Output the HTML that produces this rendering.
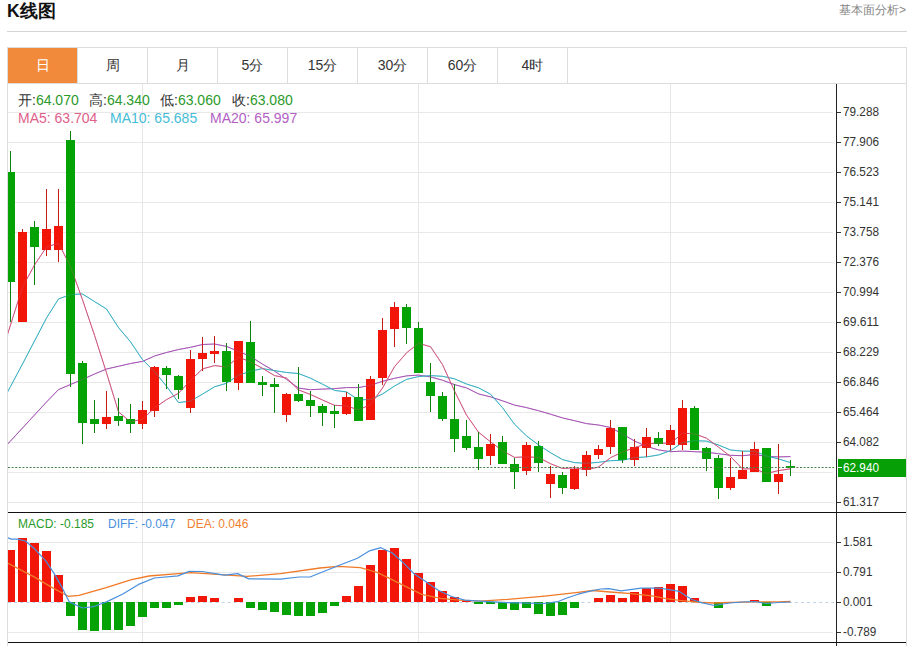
<!DOCTYPE html>
<html><head><meta charset="utf-8"><style>
html,body{margin:0;padding:0;background:#fff;width:912px;height:646px;overflow:hidden;position:relative;font-family:"Liberation Sans",sans-serif}
.title{position:absolute;left:7px;top:0px;font-size:17.5px;font-weight:bold;color:#111;line-height:22px}
.more{position:absolute;right:6px;top:2px;font-size:12px;color:#888;line-height:16px}
.hline{position:absolute;left:7px;top:31px;width:900px;height:1px;background:#d4d4d4}
.box{position:absolute;left:7px;top:47px;width:898px;height:599px;border:1px solid #dcdcdc;border-bottom:none}
.tab{position:absolute;top:48px;width:69px;height:35px;border-right:1px solid #dcdcdc;text-align:center;line-height:35px;font-size:14px;color:#333}
.tab.on{background:#f28a3c;color:#fff}
.tabline{position:absolute;left:8px;top:83px;width:898px;height:1px;background:#dcdcdc}
.info{position:absolute;font-size:14px;line-height:16px;white-space:pre}
svg text.ax,svg text.axw{font-family:"Liberation Sans",sans-serif;font-size:13px;fill:#333} svg text.axw{fill:#fff}
</style></head><body>
<div class="title">K线图</div>
<div class="more">基本面分析&gt;</div>
<div class="hline"></div>
<div class="box"></div>
<div class="tab on" style="left:8px">日</div><div class="tab" style="left:78px">周</div><div class="tab" style="left:148px">月</div><div class="tab" style="left:218px">5分</div><div class="tab" style="left:288px">15分</div><div class="tab" style="left:358px">30分</div><div class="tab" style="left:428px">60分</div><div class="tab" style="left:498px">4时</div>
<div class="tabline"></div>
<svg width="912" height="646" style="position:absolute;left:0;top:0"><defs><clipPath id="clipMain"><rect x="8" y="84" width="828" height="428"/></clipPath><clipPath id="clipMacd"><rect x="8" y="513" width="828" height="129"/></clipPath></defs><line x1="8" y1="112.5" x2="833" y2="112.5" stroke="#e8e8e8" stroke-width="1"/><line x1="8" y1="142.5" x2="833" y2="142.5" stroke="#e8e8e8" stroke-width="1"/><line x1="8" y1="172.5" x2="833" y2="172.5" stroke="#e8e8e8" stroke-width="1"/><line x1="8" y1="202.5" x2="833" y2="202.5" stroke="#e8e8e8" stroke-width="1"/><line x1="8" y1="232.5" x2="833" y2="232.5" stroke="#e8e8e8" stroke-width="1"/><line x1="8" y1="262.5" x2="833" y2="262.5" stroke="#e8e8e8" stroke-width="1"/><line x1="8" y1="292.5" x2="833" y2="292.5" stroke="#e8e8e8" stroke-width="1"/><line x1="8" y1="322.5" x2="833" y2="322.5" stroke="#e8e8e8" stroke-width="1"/><line x1="8" y1="352.5" x2="833" y2="352.5" stroke="#e8e8e8" stroke-width="1"/><line x1="8" y1="382.5" x2="833" y2="382.5" stroke="#e8e8e8" stroke-width="1"/><line x1="8" y1="412.5" x2="833" y2="412.5" stroke="#e8e8e8" stroke-width="1"/><line x1="8" y1="442.5" x2="833" y2="442.5" stroke="#e8e8e8" stroke-width="1"/><line x1="8" y1="472.5" x2="833" y2="472.5" stroke="#e8e8e8" stroke-width="1"/><line x1="8" y1="502.5" x2="833" y2="502.5" stroke="#e8e8e8" stroke-width="1"/><line x1="8" y1="542.5" x2="833" y2="542.5" stroke="#e8e8e8" stroke-width="1"/><line x1="8" y1="572.5" x2="833" y2="572.5" stroke="#e8e8e8" stroke-width="1"/><line x1="8" y1="632.5" x2="833" y2="632.5" stroke="#e8e8e8" stroke-width="1"/><line x1="142.5" y1="84" x2="142.5" y2="642" stroke="#e6e6e8" stroke-width="1"/><line x1="418.5" y1="84" x2="418.5" y2="642" stroke="#e6e6e8" stroke-width="1"/><line x1="670.5" y1="84" x2="670.5" y2="642" stroke="#e6e6e8" stroke-width="1"/><g clip-path="url(#clipMain)"><polyline points="-1.5,454.0 10.5,441.0 22.5,428.0 34.5,415.0 46.5,402.0 58.5,389.6 70.5,384.5 82.5,379.5 94.5,374.0 106.5,369.0 118.5,366.3 130.5,363.5 142.5,361.4 154.5,356.0 166.5,352.5 178.5,349.5 190.5,347.3 202.5,344.5 214.5,344.0 226.5,346.4 238.5,351.4 250.5,356.5 262.5,364.1 274.5,371.1 286.5,379.3 298.5,388.1 310.5,389.7 322.5,389.1 334.5,388.6 346.5,387.6 358.5,387.6 370.5,385.3 382.5,381.3 394.5,378.3 406.5,375.9 418.5,375.1 430.5,376.9 442.5,380.2 454.5,384.6 466.5,387.9 478.5,393.9 490.5,396.9 502.5,400.8 514.5,405.1 526.5,407.6 538.5,410.7 550.5,414.2 562.5,417.9 574.5,420.7 586.5,423.6 598.5,425.0 610.5,427.5 622.5,434.0 634.5,441.0 646.5,446.4 658.5,449.9 670.5,451.7 682.5,451.1 694.5,451.7 706.5,452.2 718.5,453.7 730.5,455.3 742.5,455.7 754.5,454.5 766.5,456.4 778.5,456.9 790.5,456.6" fill="none" stroke="#a552b4" stroke-width="1.0" stroke-linejoin="round"/><polyline points="-1.5,409.0 10.5,386.5 22.5,364.0 34.5,341.0 46.5,318.0 58.5,299.0 70.5,294.5 82.5,294.0 94.5,301.5 106.5,309.0 118.5,327.6 130.5,341.8 142.5,359.6 154.5,371.6 166.5,386.2 178.5,402.6 190.5,401.1 202.5,394.1 214.5,386.8 226.5,383.3 238.5,375.2 250.5,371.2 262.5,368.6 274.5,370.6 286.5,372.5 298.5,373.5 310.5,378.2 322.5,384.2 334.5,390.4 346.5,391.9 358.5,399.9 370.5,399.5 382.5,394.0 394.5,386.0 406.5,379.4 418.5,376.6 430.5,375.6 442.5,376.3 454.5,378.8 466.5,384.0 478.5,387.8 490.5,394.2 502.5,407.7 514.5,424.2 526.5,435.9 538.5,444.9 550.5,452.7 562.5,459.6 574.5,462.6 586.5,463.3 598.5,462.3 610.5,460.7 622.5,460.2 634.5,457.7 646.5,456.9 658.5,455.0 670.5,450.6 682.5,442.6 694.5,440.7 706.5,441.1 718.5,445.0 730.5,450.0 742.5,451.1 754.5,451.3 766.5,455.9 778.5,458.9 790.5,462.6" fill="none" stroke="#36b0c2" stroke-width="1.0" stroke-linejoin="round"/><polyline points="-1.5,363.0 10.5,325.0 22.5,287.0 34.5,265.0 46.5,247.0 58.5,243.2 70.5,266.5 82.5,299.8 94.5,335.2 106.5,372.8 118.5,411.9 130.5,421.8 142.5,419.3 154.5,407.9 166.5,399.6 178.5,393.3 190.5,380.4 202.5,368.9 214.5,365.6 226.5,367.0 238.5,357.1 250.5,361.9 262.5,368.3 274.5,375.6 286.5,378.0 298.5,389.9 310.5,394.5 322.5,400.0 334.5,405.3 346.5,405.9 358.5,409.9 370.5,404.6 382.5,388.0 394.5,366.7 406.5,352.9 418.5,343.3 430.5,346.7 442.5,364.6 454.5,391.0 466.5,415.1 478.5,432.2 490.5,441.8 502.5,450.7 514.5,457.4 526.5,456.8 538.5,457.5 550.5,463.7 562.5,468.5 574.5,467.9 586.5,469.8 598.5,467.0 610.5,457.7 622.5,452.0 634.5,447.6 646.5,444.0 658.5,442.9 670.5,443.5 682.5,433.2 694.5,433.8 706.5,438.2 718.5,447.1 730.5,456.5 742.5,468.9 754.5,468.8 766.5,473.5 778.5,470.6 790.5,468.8" fill="none" stroke="#cf5580" stroke-width="1.0" stroke-linejoin="round"/></g><g clip-path="url(#clipMain)" shape-rendering="crispEdges"><rect x="10.0" y="151" width="1" height="171" fill="#0a820a"/><rect x="6.0" y="172" width="9" height="110" fill="#04a204"/><rect x="22.0" y="229" width="1" height="93" fill="#c41c12"/><rect x="18.0" y="232" width="9" height="90" fill="#f21608"/><rect x="34.0" y="221" width="1" height="64" fill="#0a820a"/><rect x="30.0" y="227" width="9" height="20" fill="#04a204"/><rect x="46.0" y="189" width="1" height="67" fill="#c41c12"/><rect x="42.0" y="229" width="9" height="21" fill="#f21608"/><rect x="58.0" y="189" width="1" height="73" fill="#c41c12"/><rect x="54.0" y="226" width="9" height="24" fill="#f21608"/><rect x="70.0" y="131" width="1" height="256" fill="#0a820a"/><rect x="66.0" y="140" width="9" height="234" fill="#04a204"/><rect x="82.0" y="361" width="1" height="83" fill="#0a820a"/><rect x="78.0" y="363" width="9" height="60" fill="#04a204"/><rect x="94.0" y="400" width="1" height="33" fill="#0a820a"/><rect x="90.0" y="419" width="9" height="5" fill="#04a204"/><rect x="106.0" y="391" width="1" height="38" fill="#c41c12"/><rect x="102.0" y="417" width="9" height="7" fill="#f21608"/><rect x="118.0" y="398" width="1" height="28" fill="#0a820a"/><rect x="114.0" y="416" width="9" height="5" fill="#04a204"/><rect x="130.0" y="404" width="1" height="29" fill="#0a820a"/><rect x="126.0" y="419" width="9" height="5" fill="#04a204"/><rect x="142.0" y="401" width="1" height="28" fill="#c41c12"/><rect x="138.0" y="410" width="9" height="14" fill="#f21608"/><rect x="154.0" y="366" width="1" height="51" fill="#c41c12"/><rect x="150.0" y="367" width="9" height="44" fill="#f21608"/><rect x="166.0" y="366" width="1" height="23" fill="#0a820a"/><rect x="162.0" y="368" width="9" height="7" fill="#04a204"/><rect x="178.0" y="375" width="1" height="24" fill="#0a820a"/><rect x="174.0" y="376" width="9" height="14" fill="#04a204"/><rect x="190.0" y="350" width="1" height="63" fill="#c41c12"/><rect x="186.0" y="359" width="9" height="49" fill="#f21608"/><rect x="202.0" y="337" width="1" height="34" fill="#c41c12"/><rect x="198.0" y="353" width="9" height="6" fill="#f21608"/><rect x="214.0" y="336" width="1" height="27" fill="#c41c12"/><rect x="210.0" y="351" width="9" height="3" fill="#f21608"/><rect x="226.0" y="343" width="1" height="48" fill="#0a820a"/><rect x="222.0" y="351" width="9" height="31" fill="#04a204"/><rect x="238.0" y="341" width="1" height="49" fill="#c41c12"/><rect x="234.0" y="341" width="9" height="42" fill="#f21608"/><rect x="250.0" y="321" width="1" height="62" fill="#0a820a"/><rect x="246.0" y="342" width="9" height="41" fill="#04a204"/><rect x="262.0" y="376" width="1" height="20" fill="#0a820a"/><rect x="258.0" y="382" width="9" height="3" fill="#04a204"/><rect x="274.0" y="378" width="1" height="35" fill="#0a820a"/><rect x="270.0" y="384" width="9" height="3" fill="#04a204"/><rect x="286.0" y="393" width="1" height="29" fill="#c41c12"/><rect x="282.0" y="394" width="9" height="21" fill="#f21608"/><rect x="298.0" y="367" width="1" height="35" fill="#0a820a"/><rect x="294.0" y="394" width="9" height="7" fill="#04a204"/><rect x="310.0" y="391" width="1" height="26" fill="#0a820a"/><rect x="306.0" y="400" width="9" height="6" fill="#04a204"/><rect x="322.0" y="404" width="1" height="22" fill="#0a820a"/><rect x="318.0" y="406" width="9" height="7" fill="#04a204"/><rect x="334.0" y="405" width="1" height="23" fill="#0a820a"/><rect x="330.0" y="411" width="9" height="3" fill="#04a204"/><rect x="346.0" y="392" width="1" height="23" fill="#c41c12"/><rect x="342.0" y="397" width="9" height="17" fill="#f21608"/><rect x="358.0" y="384" width="1" height="37" fill="#0a820a"/><rect x="354.0" y="397" width="9" height="24" fill="#04a204"/><rect x="370.0" y="376" width="1" height="44" fill="#c41c12"/><rect x="366.0" y="379" width="9" height="41" fill="#f21608"/><rect x="382.0" y="318" width="1" height="67" fill="#c41c12"/><rect x="378.0" y="330" width="9" height="48" fill="#f21608"/><rect x="394.0" y="302" width="1" height="45" fill="#c41c12"/><rect x="390.0" y="307" width="9" height="22" fill="#f21608"/><rect x="406.0" y="304" width="1" height="40" fill="#0a820a"/><rect x="402.0" y="307" width="9" height="21" fill="#04a204"/><rect x="418.0" y="322" width="1" height="51" fill="#0a820a"/><rect x="414.0" y="328" width="9" height="45" fill="#04a204"/><rect x="430.0" y="363" width="1" height="49" fill="#0a820a"/><rect x="426.0" y="382" width="9" height="14" fill="#04a204"/><rect x="442.0" y="392" width="1" height="29" fill="#0a820a"/><rect x="438.0" y="396" width="9" height="23" fill="#04a204"/><rect x="454.0" y="384" width="1" height="68" fill="#0a820a"/><rect x="450.0" y="419" width="9" height="20" fill="#04a204"/><rect x="466.0" y="420" width="1" height="30" fill="#0a820a"/><rect x="462.0" y="436" width="9" height="12" fill="#04a204"/><rect x="478.0" y="432" width="1" height="38" fill="#0a820a"/><rect x="474.0" y="447" width="9" height="12" fill="#04a204"/><rect x="490.0" y="434" width="1" height="31" fill="#c41c12"/><rect x="486.0" y="444" width="9" height="12" fill="#f21608"/><rect x="502.0" y="436" width="1" height="28" fill="#0a820a"/><rect x="498.0" y="442" width="9" height="22" fill="#04a204"/><rect x="514.0" y="458" width="1" height="31" fill="#0a820a"/><rect x="510.0" y="464" width="9" height="8" fill="#04a204"/><rect x="526.0" y="442" width="1" height="33" fill="#c41c12"/><rect x="522.0" y="445" width="9" height="26" fill="#f21608"/><rect x="538.0" y="441" width="1" height="31" fill="#0a820a"/><rect x="534.0" y="446" width="9" height="17" fill="#04a204"/><rect x="550.0" y="466" width="1" height="32" fill="#c41c12"/><rect x="546.0" y="474" width="9" height="10" fill="#f21608"/><rect x="562.0" y="472" width="1" height="22" fill="#0a820a"/><rect x="558.0" y="475" width="9" height="13" fill="#04a204"/><rect x="574.0" y="466" width="1" height="24" fill="#c41c12"/><rect x="570.0" y="469" width="9" height="20" fill="#f21608"/><rect x="586.0" y="451" width="1" height="25" fill="#c41c12"/><rect x="582.0" y="455" width="9" height="15" fill="#f21608"/><rect x="598.0" y="445" width="1" height="14" fill="#c41c12"/><rect x="594.0" y="449" width="9" height="6" fill="#f21608"/><rect x="610.0" y="420" width="1" height="34" fill="#c41c12"/><rect x="606.0" y="428" width="9" height="19" fill="#f21608"/><rect x="622.0" y="427" width="1" height="36" fill="#0a820a"/><rect x="618.0" y="427" width="9" height="33" fill="#04a204"/><rect x="634.0" y="439" width="1" height="27" fill="#c41c12"/><rect x="630.0" y="447" width="9" height="13" fill="#f21608"/><rect x="646.0" y="428" width="1" height="29" fill="#c41c12"/><rect x="642.0" y="437" width="9" height="11" fill="#f21608"/><rect x="658.0" y="432" width="1" height="14" fill="#0a820a"/><rect x="654.0" y="438" width="9" height="6" fill="#04a204"/><rect x="670.0" y="425" width="1" height="26" fill="#c41c12"/><rect x="666.0" y="430" width="9" height="15" fill="#f21608"/><rect x="682.0" y="400" width="1" height="50" fill="#c41c12"/><rect x="678.0" y="408" width="9" height="37" fill="#f21608"/><rect x="694.0" y="406" width="1" height="44" fill="#0a820a"/><rect x="690.0" y="408" width="9" height="42" fill="#04a204"/><rect x="706.0" y="447" width="1" height="24" fill="#0a820a"/><rect x="702.0" y="448" width="9" height="11" fill="#04a204"/><rect x="718.0" y="455" width="1" height="44" fill="#0a820a"/><rect x="714.0" y="458" width="9" height="30" fill="#04a204"/><rect x="730.0" y="458" width="1" height="32" fill="#c41c12"/><rect x="726.0" y="477" width="9" height="11" fill="#f21608"/><rect x="742.0" y="451" width="1" height="28" fill="#c41c12"/><rect x="738.0" y="470" width="9" height="9" fill="#f21608"/><rect x="754.0" y="442" width="1" height="30" fill="#c41c12"/><rect x="750.0" y="449" width="9" height="23" fill="#f21608"/><rect x="766.0" y="448" width="1" height="34" fill="#0a820a"/><rect x="762.0" y="448" width="9" height="34" fill="#04a204"/><rect x="778.0" y="444" width="1" height="50" fill="#c41c12"/><rect x="774.0" y="474" width="9" height="8" fill="#f21608"/><rect x="790.0" y="460" width="1" height="16" fill="#0a820a"/><rect x="786.0" y="466" width="9" height="2" fill="#04a204"/></g><g clip-path="url(#clipMain)" opacity="0.35"><polyline points="-1.5,454.0 10.5,441.0 22.5,428.0 34.5,415.0 46.5,402.0 58.5,389.6 70.5,384.5 82.5,379.5 94.5,374.0 106.5,369.0 118.5,366.3 130.5,363.5 142.5,361.4 154.5,356.0 166.5,352.5 178.5,349.5 190.5,347.3 202.5,344.5 214.5,344.0 226.5,346.4 238.5,351.4 250.5,356.5 262.5,364.1 274.5,371.1 286.5,379.3 298.5,388.1 310.5,389.7 322.5,389.1 334.5,388.6 346.5,387.6 358.5,387.6 370.5,385.3 382.5,381.3 394.5,378.3 406.5,375.9 418.5,375.1 430.5,376.9 442.5,380.2 454.5,384.6 466.5,387.9 478.5,393.9 490.5,396.9 502.5,400.8 514.5,405.1 526.5,407.6 538.5,410.7 550.5,414.2 562.5,417.9 574.5,420.7 586.5,423.6 598.5,425.0 610.5,427.5 622.5,434.0 634.5,441.0 646.5,446.4 658.5,449.9 670.5,451.7 682.5,451.1 694.5,451.7 706.5,452.2 718.5,453.7 730.5,455.3 742.5,455.7 754.5,454.5 766.5,456.4 778.5,456.9 790.5,456.6" fill="none" stroke="#a552b4" stroke-width="1.0" stroke-linejoin="round"/><polyline points="-1.5,409.0 10.5,386.5 22.5,364.0 34.5,341.0 46.5,318.0 58.5,299.0 70.5,294.5 82.5,294.0 94.5,301.5 106.5,309.0 118.5,327.6 130.5,341.8 142.5,359.6 154.5,371.6 166.5,386.2 178.5,402.6 190.5,401.1 202.5,394.1 214.5,386.8 226.5,383.3 238.5,375.2 250.5,371.2 262.5,368.6 274.5,370.6 286.5,372.5 298.5,373.5 310.5,378.2 322.5,384.2 334.5,390.4 346.5,391.9 358.5,399.9 370.5,399.5 382.5,394.0 394.5,386.0 406.5,379.4 418.5,376.6 430.5,375.6 442.5,376.3 454.5,378.8 466.5,384.0 478.5,387.8 490.5,394.2 502.5,407.7 514.5,424.2 526.5,435.9 538.5,444.9 550.5,452.7 562.5,459.6 574.5,462.6 586.5,463.3 598.5,462.3 610.5,460.7 622.5,460.2 634.5,457.7 646.5,456.9 658.5,455.0 670.5,450.6 682.5,442.6 694.5,440.7 706.5,441.1 718.5,445.0 730.5,450.0 742.5,451.1 754.5,451.3 766.5,455.9 778.5,458.9 790.5,462.6" fill="none" stroke="#36b0c2" stroke-width="1.0" stroke-linejoin="round"/><polyline points="-1.5,363.0 10.5,325.0 22.5,287.0 34.5,265.0 46.5,247.0 58.5,243.2 70.5,266.5 82.5,299.8 94.5,335.2 106.5,372.8 118.5,411.9 130.5,421.8 142.5,419.3 154.5,407.9 166.5,399.6 178.5,393.3 190.5,380.4 202.5,368.9 214.5,365.6 226.5,367.0 238.5,357.1 250.5,361.9 262.5,368.3 274.5,375.6 286.5,378.0 298.5,389.9 310.5,394.5 322.5,400.0 334.5,405.3 346.5,405.9 358.5,409.9 370.5,404.6 382.5,388.0 394.5,366.7 406.5,352.9 418.5,343.3 430.5,346.7 442.5,364.6 454.5,391.0 466.5,415.1 478.5,432.2 490.5,441.8 502.5,450.7 514.5,457.4 526.5,456.8 538.5,457.5 550.5,463.7 562.5,468.5 574.5,467.9 586.5,469.8 598.5,467.0 610.5,457.7 622.5,452.0 634.5,447.6 646.5,444.0 658.5,442.9 670.5,443.5 682.5,433.2 694.5,433.8 706.5,438.2 718.5,447.1 730.5,456.5 742.5,468.9 754.5,468.8 766.5,473.5 778.5,470.6 790.5,468.8" fill="none" stroke="#cf5580" stroke-width="1.0" stroke-linejoin="round"/></g><line x1="8" y1="467.5" x2="834" y2="467.5" stroke="#4a804a" stroke-width="1" stroke-dasharray="2,1.6"/><line x1="8" y1="602.5" x2="834" y2="602.5" stroke="#bcd2e6" stroke-width="1" stroke-dasharray="3,3.1"/><g clip-path="url(#clipMacd)" shape-rendering="crispEdges"><rect x="6.0" y="550" width="9" height="52" fill="#f21608"/><rect x="18.0" y="538" width="9" height="64" fill="#f21608"/><rect x="30.0" y="543" width="9" height="59" fill="#f21608"/><rect x="42.0" y="551" width="9" height="51" fill="#f21608"/><rect x="54.0" y="575" width="9" height="27" fill="#f21608"/><rect x="66.0" y="602" width="9" height="14" fill="#04a204"/><rect x="78.0" y="602" width="9" height="28" fill="#04a204"/><rect x="90.0" y="602" width="9" height="29" fill="#04a204"/><rect x="102.0" y="602" width="9" height="28" fill="#04a204"/><rect x="114.0" y="602" width="9" height="28" fill="#04a204"/><rect x="126.0" y="602" width="9" height="24" fill="#04a204"/><rect x="138.0" y="602" width="9" height="15" fill="#04a204"/><rect x="150.0" y="602" width="9" height="6" fill="#04a204"/><rect x="162.0" y="602" width="9" height="6" fill="#04a204"/><rect x="174.0" y="602" width="9" height="3" fill="#04a204"/><rect x="186.0" y="597" width="9" height="5" fill="#f21608"/><rect x="198.0" y="596" width="9" height="6" fill="#f21608"/><rect x="210.0" y="598" width="9" height="4" fill="#f21608"/><rect x="234.0" y="598" width="9" height="4" fill="#f21608"/><rect x="246.0" y="602" width="9" height="6" fill="#04a204"/><rect x="258.0" y="602" width="9" height="8" fill="#04a204"/><rect x="270.0" y="602" width="9" height="10" fill="#04a204"/><rect x="282.0" y="602" width="9" height="13" fill="#04a204"/><rect x="294.0" y="602" width="9" height="14" fill="#04a204"/><rect x="306.0" y="602" width="9" height="14" fill="#04a204"/><rect x="318.0" y="602" width="9" height="11" fill="#04a204"/><rect x="330.0" y="602" width="9" height="4" fill="#04a204"/><rect x="342.0" y="596" width="9" height="6" fill="#f21608"/><rect x="354.0" y="586" width="9" height="16" fill="#f21608"/><rect x="366.0" y="565" width="9" height="37" fill="#f21608"/><rect x="378.0" y="550" width="9" height="52" fill="#f21608"/><rect x="390.0" y="548" width="9" height="54" fill="#f21608"/><rect x="402.0" y="559" width="9" height="43" fill="#f21608"/><rect x="414.0" y="573" width="9" height="29" fill="#f21608"/><rect x="426.0" y="582" width="9" height="20" fill="#f21608"/><rect x="438.0" y="591" width="9" height="11" fill="#f21608"/><rect x="450.0" y="597" width="9" height="5" fill="#f21608"/><rect x="462.0" y="600" width="9" height="2" fill="#f21608"/><rect x="474.0" y="602" width="9" height="2" fill="#04a204"/><rect x="486.0" y="602" width="9" height="2" fill="#04a204"/><rect x="498.0" y="602" width="9" height="7" fill="#04a204"/><rect x="510.0" y="602" width="9" height="8" fill="#04a204"/><rect x="522.0" y="602" width="9" height="6" fill="#04a204"/><rect x="534.0" y="602" width="9" height="12" fill="#04a204"/><rect x="546.0" y="602" width="9" height="14" fill="#04a204"/><rect x="558.0" y="602" width="9" height="13" fill="#04a204"/><rect x="570.0" y="602" width="9" height="6" fill="#04a204"/><rect x="594.0" y="598" width="9" height="4" fill="#f21608"/><rect x="606.0" y="595" width="9" height="7" fill="#f21608"/><rect x="618.0" y="598" width="9" height="4" fill="#f21608"/><rect x="630.0" y="592" width="9" height="10" fill="#f21608"/><rect x="642.0" y="588" width="9" height="14" fill="#f21608"/><rect x="654.0" y="587" width="9" height="15" fill="#f21608"/><rect x="666.0" y="584" width="9" height="18" fill="#f21608"/><rect x="678.0" y="586" width="9" height="16" fill="#f21608"/><rect x="690.0" y="598" width="9" height="4" fill="#f21608"/><rect x="714.0" y="602" width="9" height="6" fill="#04a204"/><rect x="750.0" y="600" width="9" height="2" fill="#f21608"/><rect x="762.0" y="602" width="9" height="4" fill="#04a204"/></g><g clip-path="url(#clipMacd)"><polyline points="-1.5,561.0 8.0,563.3 35.0,577.4 52.6,587.9 68.4,596.3 79.0,595.3 105.3,587.9 131.6,579.6 149.0,576.0 178.0,573.6 191.0,572.7 220.8,574.6 247.0,576.4 280.5,573.6 320.0,568.0 338.0,566.3 360.3,567.6 377.1,572.3 392.0,579.7 406.9,587.2 421.8,594.3 440.5,598.4 459.1,600.2 480.0,601.2 507.3,599.4 544.6,596.1 578.1,592.4 593.0,590.5 609.8,592.0 628.4,593.3 652.0,595.8 666.2,598.6 679.3,600.4 695.8,602.2 713.3,603.0 730.0,602.4 754.5,601.8 778.5,601.8 790.5,601.5" fill="none" stroke="#f07a28" stroke-width="1.3" stroke-linejoin="round"/><polyline points="-1.5,538.0 8.0,537.9 11.4,539.1 17.5,539.1 25.4,541.0 35.0,549.3 45.6,560.7 54.4,573.9 62.3,587.9 69.3,601.9 82.5,608.0 94.7,606.3 107.0,601.6 122.8,594.0 138.6,584.4 154.4,578.0 178.0,575.9 189.1,571.4 202.2,571.5 224.6,575.1 237.6,573.6 248.8,578.9 280.5,579.2 299.0,577.0 310.0,577.0 338.0,565.8 357.5,558.3 369.6,550.8 380.8,547.7 392.0,552.7 403.2,562.6 414.4,574.1 425.6,581.6 438.6,590.5 451.7,596.5 464.7,600.2 480.0,601.2 507.3,602.6 544.6,603.5 557.6,601.7 566.9,598.0 578.1,594.2 591.2,590.9 600.5,589.0 608.9,588.6 621.0,590.9 641.0,588.2 658.5,588.0 670.6,589.8 679.3,591.4 687.0,596.4 692.5,599.7 701.3,602.6 714.4,605.5 723.2,604.0 730.0,603.0 742.0,602.0 754.5,601.5 766.5,603.5 778.5,602.5 790.5,602.0" fill="none" stroke="#4a8fdc" stroke-width="1.2" stroke-linejoin="round"/></g><rect x="836" y="84" width="1" height="562" fill="#222"/><rect x="8" y="512" width="898" height="1" fill="#111"/><rect x="8" y="642" width="898" height="1" fill="#111"/><rect x="837" y="112.0" width="4" height="1" fill="#333"/><text x="843" y="116.0" class="ax" textLength="35.98" lengthAdjust="spacingAndGlyphs">79.288</text><rect x="837" y="142.0" width="4" height="1" fill="#333"/><text x="843" y="146.0" class="ax" textLength="35.98" lengthAdjust="spacingAndGlyphs">77.906</text><rect x="837" y="172.0" width="4" height="1" fill="#333"/><text x="843" y="176.0" class="ax" textLength="35.98" lengthAdjust="spacingAndGlyphs">76.523</text><rect x="837" y="202.0" width="4" height="1" fill="#333"/><text x="843" y="206.0" class="ax" textLength="35.98" lengthAdjust="spacingAndGlyphs">75.141</text><rect x="837" y="232.0" width="4" height="1" fill="#333"/><text x="843" y="236.0" class="ax" textLength="35.98" lengthAdjust="spacingAndGlyphs">73.758</text><rect x="837" y="262.0" width="4" height="1" fill="#333"/><text x="843" y="266.0" class="ax" textLength="35.98" lengthAdjust="spacingAndGlyphs">72.376</text><rect x="837" y="292.0" width="4" height="1" fill="#333"/><text x="843" y="296.0" class="ax" textLength="35.98" lengthAdjust="spacingAndGlyphs">70.994</text><rect x="837" y="322.0" width="4" height="1" fill="#333"/><text x="843" y="326.0" class="ax" textLength="35.98" lengthAdjust="spacingAndGlyphs">69.611</text><rect x="837" y="352.0" width="4" height="1" fill="#333"/><text x="843" y="356.0" class="ax" textLength="35.98" lengthAdjust="spacingAndGlyphs">68.229</text><rect x="837" y="382.0" width="4" height="1" fill="#333"/><text x="843" y="386.0" class="ax" textLength="35.98" lengthAdjust="spacingAndGlyphs">66.846</text><rect x="837" y="412.0" width="4" height="1" fill="#333"/><text x="843" y="416.0" class="ax" textLength="35.98" lengthAdjust="spacingAndGlyphs">65.464</text><rect x="837" y="442.0" width="4" height="1" fill="#333"/><text x="843" y="446.0" class="ax" textLength="35.98" lengthAdjust="spacingAndGlyphs">64.082</text><rect x="837" y="502.0" width="4" height="1" fill="#333"/><text x="843" y="506.0" class="ax" textLength="35.98" lengthAdjust="spacingAndGlyphs">61.317</text><rect x="837" y="542.0" width="4" height="1" fill="#333"/><text x="843" y="546.0" class="ax" textLength="29.44" lengthAdjust="spacingAndGlyphs">1.581</text><rect x="837" y="572.0" width="4" height="1" fill="#333"/><text x="843" y="576.0" class="ax" textLength="29.44" lengthAdjust="spacingAndGlyphs">0.791</text><rect x="837" y="602.0" width="4" height="1" fill="#333"/><text x="843" y="606.0" class="ax" textLength="29.44" lengthAdjust="spacingAndGlyphs">0.001</text><rect x="837" y="632.0" width="4" height="1" fill="#333"/><text x="843" y="636.0" class="ax" textLength="33.36" lengthAdjust="spacingAndGlyphs">-0.789</text><rect x="838" y="459" width="68" height="18" fill="#06a006"/><rect x="838" y="467" width="4" height="1" fill="#fff"/><text x="843" y="472" class="axw" textLength="35.98" lengthAdjust="spacingAndGlyphs">62.940</text></svg>
<div class="info" style="top:92px;left:18px"><span style="color:#333">开:</span><span style="color:#2a9a2a">64.070</span></div>
<div class="info" style="top:92px;left:89px"><span style="color:#333">高:</span><span style="color:#2a9a2a">64.340</span></div>
<div class="info" style="top:92px;left:160px"><span style="color:#333">低:</span><span style="color:#2a9a2a">63.060</span></div>
<div class="info" style="top:92px;left:232px"><span style="color:#333">收:</span><span style="color:#2a9a2a">63.080</span></div>
<div class="info" style="top:110px;left:18px;color:#e0608a">MA5: 63.704</div>
<div class="info" style="top:110px;left:110px;color:#45bdd6">MA10: 65.685</div>
<div class="info" style="top:110px;left:210px;color:#b35fc4">MA20: 65.997</div>
<div class="info" style="top:516px;left:18px;color:#2a9a2a;font-size:12px">MACD: -0.185</div>
<div class="info" style="top:516px;left:108px;color:#4a90e0;font-size:12px">DIFF: -0.047</div>
<div class="info" style="top:516px;left:187px;color:#f08030;font-size:12px">DEA: 0.046</div>
</body></html>
